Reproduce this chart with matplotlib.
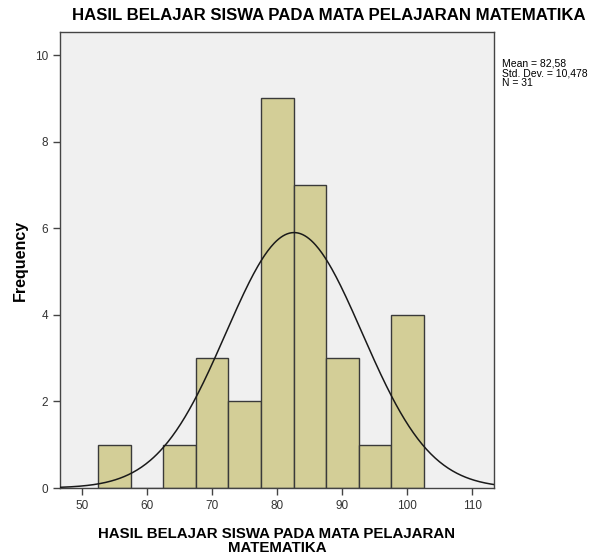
import numpy as np
import matplotlib.pyplot as plt

# Histogram data read from the SPSS output
bin_centers = [55, 60, 65, 70, 75, 80, 85, 90, 95, 100]
counts = [1, 0, 1, 3, 2, 9, 7, 3, 1, 4]
BIN_WIDTH = 5
MEAN = 82.58
STD = 10.478
N = 31

TITLE = 'HASIL BELAJAR SISWA PADA MATA PELAJARAN MATEMATIKA'
XLABEL = 'HASIL BELAJAR SISWA PADA MATA PELAJARAN\nMATEMATIKA'
STATS_TEXT = 'Mean = 82,58\nStd. Dev. = 10,478\nN = 31'

plt.rcParams['font.family'] = ['Liberation Sans', 'DejaVu Sans']

fig = plt.figure(figsize=(6.06, 5.56), dpi=100)
ax = fig.add_axes([0.099, 0.1223, 0.716, 0.8197])
ax.set_facecolor('#F0F0F0')

ax.bar(bin_centers, counts, width=BIN_WIDTH, color='#D3CE97',
       edgecolor='#3A3A3A', linewidth=1.0, zorder=2)

# Normal curve scaled to counts
xs = np.linspace(46.6, 113.3, 400)
ys = N * BIN_WIDTH / (STD * np.sqrt(2 * np.pi)) * np.exp(-0.5 * ((xs - MEAN) / STD) ** 2)
ax.plot(xs, ys, color='#1A1A1A', linewidth=1.1, zorder=3)

ax.set_xlim(46.6, 113.3)
ax.set_ylim(0, 10.53)
ax.set_xticks([50, 60, 70, 80, 90, 100, 110])
ax.set_yticks([0, 2, 4, 6, 8, 10])
ax.tick_params(axis='both', direction='out', length=5, width=1,
               color='#444444', labelsize=8.5, labelcolor='#333333')
for s in ax.spines.values():
    s.set_color('#444444')
    s.set_linewidth(1.0)

fig.text(0.542, 0.972, TITLE, fontsize=12.1, fontweight='bold',
         ha='center', va='center')
ax.set_ylabel('Frequency', fontsize=11.5, fontweight='bold', labelpad=5)
ax.set_xlabel(XLABEL, fontsize=10.8, fontweight='bold', labelpad=11,
              linespacing=1.0)

fig.text(0.828, 0.895, STATS_TEXT, fontsize=7.5, va='top', ha='left',
         linespacing=1.0)

fig.savefig('out.png', dpi=100)
